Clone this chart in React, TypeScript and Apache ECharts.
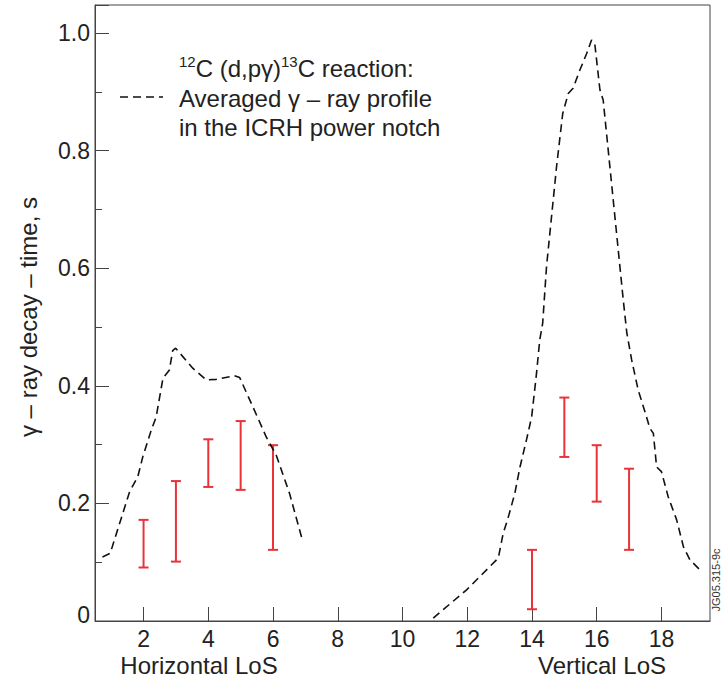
import React, { useEffect, useRef } from "react";
import * as echarts from "echarts";

// Tick values
const xTickValues = [2, 4, 6, 8, 10, 12, 14, 16, 18];

// Averaged gamma-ray profile, horizontal lines of sight
const horizX = [0.73, 0.97, 1.1, 1.57, 1.82, 1.98, 2.24, 2.39, 2.6, 2.8, 2.9, 2.99, 3.52, 3.94, 4.25, 4.81, 4.97, 5.38, 5.79, 6.1, 6.51, 6.88];
const horizY = [0.109, 0.115, 0.138, 0.22, 0.245, 0.28, 0.325, 0.347, 0.413, 0.427, 0.46, 0.464, 0.43, 0.41, 0.411, 0.417, 0.414, 0.364, 0.313, 0.282, 0.217, 0.143];

// Averaged gamma-ray profile, vertical lines of sight
const vertX = [10.95, 11.98, 12.96, 13.11, 13.26, 13.47, 13.63, 13.83, 13.99, 14.14, 14.24, 14.33, 14.45, 14.76, 14.95, 15.12, 15.27, 15.48, 15.69, 15.84, 15.94, 16.1, 16.2, 16.51, 16.82, 16.93, 17.08, 17.28, 17.49, 17.64, 17.75, 17.85, 18.0, 18.21, 18.47, 18.68, 18.88, 19.19];
const vertY = [0.005, 0.053, 0.107, 0.149, 0.175, 0.217, 0.262, 0.308, 0.347, 0.421, 0.478, 0.506, 0.603, 0.773, 0.863, 0.897, 0.906, 0.937, 0.965, 0.988, 0.982, 0.903, 0.886, 0.716, 0.546, 0.49, 0.444, 0.393, 0.356, 0.328, 0.319, 0.262, 0.254, 0.211, 0.172, 0.126, 0.104, 0.087];

// Measured decay times (error bars)
const errX = [2, 3, 4, 5, 6, 14, 15, 16, 17];
const errLow = [0.091, 0.101, 0.228, 0.223, 0.121, 0.02, 0.279, 0.203, 0.121];
const errHigh = [0.172, 0.238, 0.309, 0.34, 0.299, 0.121, 0.38, 0.299, 0.259];

const FONT = "'Liberation Sans', Arial, Helvetica, sans-serif";
const TEXT = "#222";
const AXIS = "#444";
const RED = "#e8333a";

export default function App() {
  const ref = useRef<HTMLDivElement>(null);

  useEffect(() => {
    if (!ref.current) return;
    const chart = echarts.init(ref.current, undefined, { renderer: "svg" });

    const horizData = horizX.map((x, i) => [x, horizY[i]]);
    const vertData = vertX.map((x, i) => [x, vertY[i]]);
    const errData = errX.map((x, i) => [x, errLow[i], errHigh[i]]);

    const dashed = {
      color: "#111",
      width: 1.6,
      type: [8, 5] as any,
    };

    const option: any = {
      animation: false,
      textStyle: { fontFamily: FONT },
      grid: {
        left: 95,
        top: 5,
        right: 13,
        bottom: 61,
        show: true,
        borderColor: AXIS,
        borderWidth: 1,
        backgroundColor: "transparent",
      },
      xAxis: {
        type: "value",
        min: 0.5,
        max: 19.5,
        axisLine: { show: true, lineStyle: { color: AXIS, width: 1 } },
        axisTick: {
          show: true,
          inside: true,
          length: 14,
          customValues: xTickValues,
          lineStyle: { color: AXIS, width: 1 },
        },
        axisLabel: {
          customValues: xTickValues,
          fontSize: 23,
          color: TEXT,
          margin: 6,
          fontFamily: FONT,
        },
        splitLine: { show: false },
      },
      yAxis: [
        {
          type: "value",
          min: 0,
          max: 1.0476,
          interval: 0.2,
          position: "left",
          axisLine: { show: true, lineStyle: { color: AXIS, width: 1 } },
          axisTick: { show: true, inside: true, length: 14, lineStyle: { color: AXIS, width: 1 } },
          axisLabel: {
            fontSize: 23,
            color: TEXT,
            margin: 5,
            fontFamily: FONT,
            formatter: (v: number) => {
              const k = v * 5;
              if (Math.abs(k - Math.round(k)) > 1e-6) return "";
              if (Math.abs(v) < 1e-9) return "{z|0}";
              return v.toFixed(1);
            },
            rich: {
              z: { fontSize: 23, color: TEXT, fontFamily: FONT, padding: [0, 0, 12, 0] },
            },
          },
          splitLine: { show: false },
        },
        {
          type: "value",
          min: 0,
          max: 1.0476,
          interval: 0.1,
          position: "left",
          axisLine: { show: false },
          axisTick: { show: true, inside: true, length: 7, lineStyle: { color: AXIS, width: 1 } },
          axisLabel: { show: false },
          splitLine: { show: false },
        },
      ],
      series: [
        {
          type: "line",
          data: horizData,
          yAxisIndex: 0,
          showSymbol: false,
          symbol: "none",
          lineStyle: dashed,
        },
        {
          type: "line",
          data: vertData,
          yAxisIndex: 0,
          showSymbol: false,
          symbol: "none",
          lineStyle: dashed,
        },
        {
          type: "custom",
          data: errData,
          yAxisIndex: 0,
          encode: { x: 0, y: [1, 2] },
          renderItem: (params: any, api: any) => {
            const x = api.value(0);
            const lo = api.value(1);
            const hi = api.value(2);
            const top = api.coord([x, hi]);
            const bot = api.coord([x, lo]);
            const hw = 5;
            const st = { stroke: RED, lineWidth: 2 };
            return {
              type: "group",
              children: [
                { type: "line", shape: { x1: top[0], y1: top[1], x2: bot[0], y2: bot[1] }, style: st },
                { type: "line", shape: { x1: top[0] - hw, y1: top[1], x2: top[0] + hw, y2: top[1] }, style: st },
                { type: "line", shape: { x1: bot[0] - hw, y1: bot[1], x2: bot[0] + hw, y2: bot[1] }, style: st },
              ],
            };
          },
        },
      ],
      graphic: [
        {
          type: "line",
          shape: { x1: 120, y1: 97, x2: 163, y2: 97 },
          style: { stroke: "#111", lineWidth: 1.6, lineDash: [8, 5] },
        },
        {
          type: "text",
          x: 179,
          y: 68,
          style: {
            text: "{sup|12}{n|C (d,pγ)}{sup|13}{n|C reaction:}",
            rich: {
              n: { fontSize: 24, lineHeight: 28, fill: TEXT, fontFamily: FONT },
              sup: { fontSize: 15, lineHeight: 17, fill: TEXT, fontFamily: FONT, verticalAlign: "top" },
            },
            verticalAlign: "middle",
            align: "left",
          },
        },
        {
          type: "text",
          x: 179,
          y: 98,
          style: {
            text: "Averaged γ – ray profile",
            fontSize: 24,
            fontFamily: FONT,
            fill: TEXT,
            verticalAlign: "middle",
            align: "left",
          },
        },
        {
          type: "text",
          x: 179,
          y: 127,
          style: {
            text: "in the ICRH power notch",
            fontSize: 24,
            fontFamily: FONT,
            fill: TEXT,
            verticalAlign: "middle",
            align: "left",
          },
        },
        {
          type: "text",
          x: 28,
          y: 317,
          rotation: Math.PI / 2,
          style: {
            text: "γ – ray decay – time, s",
            fontSize: 24,
            fontFamily: FONT,
            fill: TEXT,
            verticalAlign: "middle",
            align: "center",
          },
        },
        {
          type: "text",
          x: 199,
          y: 665,
          style: {
            text: "Horizontal LoS",
            fontSize: 24,
            fontFamily: FONT,
            fill: TEXT,
            verticalAlign: "middle",
            align: "center",
          },
        },
        {
          type: "text",
          x: 602,
          y: 665,
          style: {
            text: "Vertical LoS",
            fontSize: 24,
            fontFamily: FONT,
            fill: TEXT,
            verticalAlign: "middle",
            align: "center",
          },
        },
        {
          type: "text",
          x: 716,
          y: 580,
          rotation: Math.PI / 2,
          style: {
            text: "JG05.315-9c",
            fontSize: 11,
            fontFamily: FONT,
            fill: "#333",
            verticalAlign: "middle",
            align: "center",
          },
        },
      ],
    };

    chart.setOption(option);
    return () => {
      chart.dispose();
    };
  }, []);

  return (
    <div
      ref={ref}
      style={{ position: "fixed", left: 0, top: 0, width: 723, height: 682, background: "#fff" }}
    />
  );
}
